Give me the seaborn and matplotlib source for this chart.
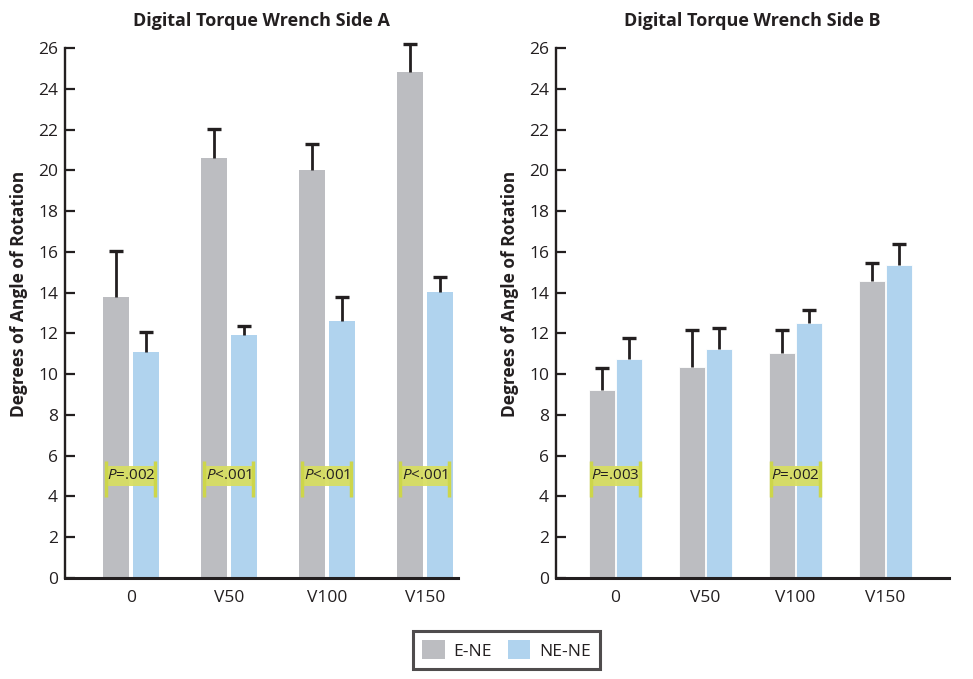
import matplotlib
matplotlib.use("Agg")
import matplotlib.pyplot as plt
from matplotlib.patches import Rectangle, Patch
import seaborn as sns
import pandas as pd
import numpy as np

# ---------------- data ----------------
conditions = ["0", "V50", "V100", "V150"]
groups = ["E-NE", "NE-NE"]

sideA_ene = [13.8, 20.6, 20.0, 24.8]
sideA_nene = [11.1, 11.9, 12.6, 14.05]
sideA_ene_err = [2.25, 1.45, 1.3, 1.4]
sideA_nene_err = [0.95, 0.45, 1.2, 0.7]

sideB_ene = [9.2, 10.35, 11.05, 14.55]
sideB_nene = [10.75, 11.25, 12.5, 15.35]
sideB_ene_err = [1.1, 1.8, 1.1, 0.9]
sideB_nene_err = [1.0, 1.0, 0.65, 1.05]

sideA_p = ["=.002", "<.001", "<.001", "<.001"]
sideB_p = ["=.003", None, "=.002", None]

titles = ["Digital Torque Wrench Side A", "Digital Torque Wrench Side B"]
ylabel = "Degrees of Angle of Rotation"
yticks = list(range(0, 27, 2))

# ---------------- style ----------------
sns.set_style("white")
plt.rcParams["font.family"] = ["Open Sans", "DejaVu Sans"]
plt.rcParams["mathtext.fontset"] = "custom"
plt.rcParams["mathtext.rm"] = "Open Sans"
plt.rcParams["mathtext.it"] = "Open Sans:italic"
TXT = "#231f20"
GRAY = "#bcbdc1"
BLUE = "#b0d3ee"
YEL = "#d8de60"
YEL_END = "#cdd64a"

fig = plt.figure(figsize=(9.73, 6.79), dpi=100)
axA = fig.add_axes([65 / 973, 1 - 578 / 679, 393 / 973, 530 / 679])
axB = fig.add_axes([556 / 973, 1 - 578 / 679, 393 / 973, 530 / 679])

panels = [
    (axA, sideA_ene, sideA_nene, sideA_ene_err, sideA_nene_err, sideA_p, 0.612, 0.134, (-0.673, 3.337), 0.25),
    (axB, sideB_ene, sideB_nene, sideB_ene_err, sideB_nene_err, sideB_p, 0.60, 0.03, (-0.661, 3.706), 0.272),
]

for k, (ax, ene, nene, ene_err, nene_err, plabs, w, gap, xlim, half) in enumerate(panels):
    df = pd.DataFrame({
        "cond": conditions * 2,
        "group": [groups[0]] * 4 + [groups[1]] * 4,
        "value": ene + nene,
    })
    sns.barplot(data=df, x="cond", y="value", hue="group", order=conditions,
                hue_order=groups, palette=[GRAY, BLUE], width=w, gap=gap,
                errorbar=None, ax=ax, legend=False, saturation=1,
                edgecolor="white", linewidth=0.6 if k == 1 else 0)
    idx = np.arange(len(conditions))
    off = w / 4
    for xs, vals, errs in [(idx - off, ene, ene_err), (idx + off, nene, nene_err)]:
        vals = np.asarray(vals)
        errs = np.asarray(errs)
        ax.vlines(xs, vals, vals + errs, colors=TXT, linewidth=2.0, zorder=3, clip_on=False)
        ax.plot(xs, vals + errs, linestyle="none", marker="_", markersize=9.5,
                markeredgewidth=2.4, color=TXT, zorder=3, clip_on=False)
    # P value labels
    for i, lab in enumerate(plabs):
        if lab is None:
            continue
        ax.add_patch(Rectangle((i - half, 4.52), 2 * half, 0.98, facecolor=YEL,
                               edgecolor="none", alpha=0.93, zorder=4))
        ax.vlines([i - half, i + half], 3.95, 5.75, colors=YEL_END, linewidth=2.5, zorder=4)
        ax.text(i, 5.02, "$P$" + lab, ha="center", va="center", fontsize=11,
                color=TXT, zorder=5)

    ax.set_xlim(*xlim)
    ax.set_ylim(0, 26)
    ax.set_yticks(yticks)
    ax.set_xlabel("")
    ax.set_ylabel(ylabel, fontsize=12.5, fontweight="bold", color=TXT)
    ax.yaxis.set_label_coords(-0.095, 0.536)
    ax.set_title(titles[k], fontsize=13, fontweight="bold", color=TXT, pad=16)
    for s in ["top", "right"]:
        ax.spines[s].set_visible(False)
    ax.spines["left"].set_linewidth(1.7)
    ax.spines["bottom"].set_linewidth(2.2)
    ax.spines["left"].set_color(TXT)
    ax.spines["bottom"].set_color(TXT)
    ax.tick_params(axis="y", direction="in", length=7.5, width=1.6, color=TXT,
                   labelsize=12.5, labelcolor=TXT, pad=5, left=True)
    ax.tick_params(axis="x", length=0, labelsize=12.5, labelcolor=TXT, pad=9)

handles = [Patch(facecolor=GRAY, edgecolor="none", label=groups[0]),
           Patch(facecolor=BLUE, edgecolor="none", label=groups[1])]
leg = fig.legend(handles=handles, loc="center", bbox_to_anchor=(506.5 / 973, 1 - 650 / 679),
                 ncol=2, frameon=True, fancybox=False, fontsize=12.5,
                 handlelength=1.3, handleheight=1.3, handletextpad=0.5,
                 columnspacing=0.9, borderpad=0.55, borderaxespad=0)
leg.get_frame().set_edgecolor(TXT)
leg.get_frame().set_linewidth(2.2)
for t in leg.get_texts():
    t.set_color(TXT)

fig.savefig("out.png", dpi=100)
